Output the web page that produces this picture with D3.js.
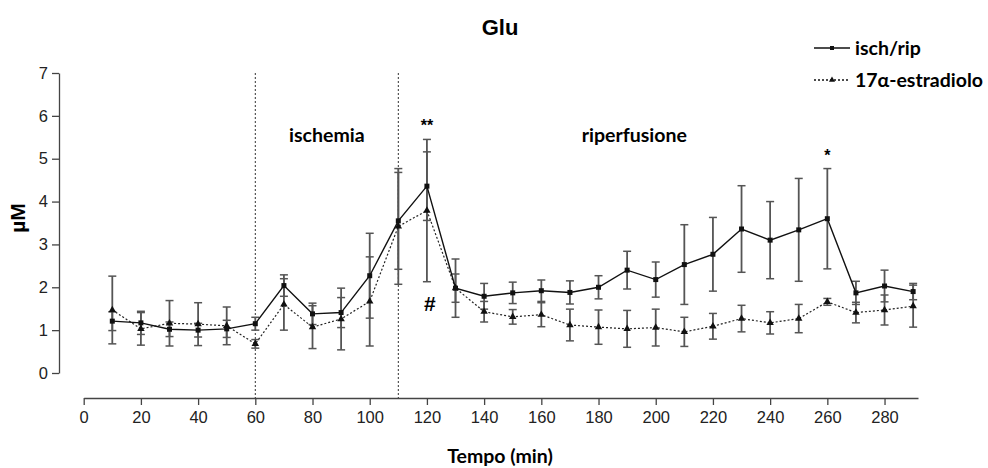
<!DOCTYPE html>
<html><head><meta charset="utf-8">
<script src="https://cdn.jsdelivr.net/npm/d3@7"></script>
<style>
body{margin:0;background:#fff;}
svg{display:block;}
</style></head>
<body>
<svg id="chart" width="988" height="468"></svg>
<script>
const times = [10,20,30,40,50,60,70,80,90,100,110,120,130,140,150,160,170,180,190,200,210,220,230,240,250,260,270,280,290];
const ischRip = [1.21,1.17,1.02,1.00,1.03,1.15,2.04,1.38,1.41,2.27,3.55,4.36,1.98,1.79,1.87,1.92,1.88,2.00,2.40,2.18,2.53,2.77,3.36,3.10,3.34,3.60,1.87,2.03,1.90];
const ischRipErr = [0.22,0.27,0.17,0.16,0.20,0.15,0.25,0.25,0.35,0.99,1.13,0.80,0.33,0.30,0.25,0.25,0.27,0.27,0.44,0.41,0.93,0.86,1.01,0.90,1.20,1.17,0.27,0.37,0.19];
const estradiolo = [1.47,1.03,1.16,1.14,1.10,0.68,1.60,1.07,1.26,1.67,3.42,3.79,1.98,1.43,1.31,1.36,1.12,1.07,1.03,1.06,0.96,1.09,1.27,1.17,1.27,1.66,1.41,1.47,1.56];
const estradioloErr = [0.79,0.38,0.53,0.50,0.44,0.10,0.60,0.50,0.72,1.04,1.35,1.66,0.68,0.24,0.17,0.28,0.37,0.40,0.43,0.43,0.34,0.30,0.31,0.26,0.33,0.08,0.24,0.35,0.49];
const xTicks = [0,20,40,60,80,100,120,140,160,180,200,220,240,260,280];
const yTicks = [0,1,2,3,4,5,6,7];
const phaseLines = [60,110];
const phaseLabels = [{text:"ischemia", t:85}, {text:"riperfusione", t:192.5}];
const annotations = [{text:"**", t:120, v:5.65, size:16}, {text:"*", t:260, v:4.95, size:16}, {text:"#", t:121, v:1.45, size:21}];
const seriesNames = ["isch/rip", "17\u03B1-estradiolo"];

const svg = d3.select("#chart");
const x = d3.scaleLinear().domain([0, 291.7]).range([83.7, 918]);
const y = d3.scaleLinear().domain([0, 7]).range([373, 73]);
const axisColor = "#444";
const sans = "'Liberation Sans', Arial, sans-serif";
const calib = "Lato, 'Open Sans', sans-serif";
const calibSize = 19.5;

// title
svg.append("text").attr("x", 500).attr("y", 35).attr("text-anchor", "middle")
  .attr("font-family", sans).attr("font-weight", "bold").attr("font-size", 22).text("Glu");

// x axis
const gx = svg.append("g").attr("transform", "translate(0,398)")
  .call(d3.axisBottom(x).tickValues(xTicks).tickFormat(d3.format("d")).tickSize(7).tickSizeOuter(0).tickPadding(6));
gx.select(".domain").attr("stroke", axisColor).attr("stroke-width", 1.3);
gx.selectAll(".tick line").attr("stroke", axisColor).attr("stroke-width", 1.3);
gx.selectAll(".tick text").attr("font-family", sans).attr("font-size", 16.5).attr("fill", "#222");

// y axis
const gy = svg.append("g").attr("transform", "translate(59,0)")
  .call(d3.axisLeft(y).tickValues(yTicks).tickFormat(d3.format("d")).tickSize(7).tickSizeOuter(0).tickPadding(4));
gy.select(".domain").attr("stroke", axisColor).attr("stroke-width", 1.3);
gy.selectAll(".tick line").attr("stroke", axisColor).attr("stroke-width", 1.3);
gy.selectAll(".tick text").attr("font-family", sans).attr("font-size", 16.5).attr("fill", "#222");

// axis titles
svg.append("text").attr("x", 500).attr("y", 463).attr("text-anchor", "middle")
  .attr("font-family", calib).attr("font-weight", "bold").attr("font-size", calibSize).text("Tempo (min)");
svg.append("text").attr("transform", "translate(25,218) rotate(-90)").attr("text-anchor", "middle")
  .attr("font-family", sans).attr("font-weight", "bold").attr("font-size", 21).text("\u00B5M");

// phase lines
svg.selectAll(".phase").data(phaseLines).join("line")
  .attr("x1", d => x(d)).attr("x2", d => x(d)).attr("y1", y(7)).attr("y2", 398)
  .attr("stroke", "#333").attr("stroke-width", 1).attr("stroke-dasharray", "2,2");
svg.selectAll(".plabel").data(phaseLabels).join("text")
  .attr("x", d => x(d.t)).attr("y", 142).attr("text-anchor", "middle")
  .attr("font-family", calib).attr("font-weight", "bold").attr("font-size", calibSize).text(d => d.text);

// error bars
function errBars(vals, errs) {
  const g = svg.append("g");
  const data = times.map((t, i) => ({t, v: vals[i], e: errs[i]}));
  g.selectAll(".ev").data(data).join("line")
    .attr("x1", d => x(d.t)).attr("x2", d => x(d.t))
    .attr("y1", d => y(d.v - d.e)).attr("y2", d => y(d.v + d.e))
    .attr("stroke", "#555").attr("stroke-width", 1.8);
  g.selectAll(".ct").data(data).join("line")
    .attr("x1", d => x(d.t) - 4).attr("x2", d => x(d.t) + 4)
    .attr("y1", d => y(d.v + d.e)).attr("y2", d => y(d.v + d.e))
    .attr("stroke", "#555").attr("stroke-width", 1.5);
  g.selectAll(".cb").data(data).join("line")
    .attr("x1", d => x(d.t) - 4).attr("x2", d => x(d.t) + 4)
    .attr("y1", d => y(d.v - d.e)).attr("y2", d => y(d.v - d.e))
    .attr("stroke", "#555").attr("stroke-width", 1.5);
}
errBars(estradiolo, estradioloErr);
errBars(ischRip, ischRipErr);

const line = d3.line().x(d => x(d[0])).y(d => y(d[1]));
svg.append("path").datum(times.map((t, i) => [t, estradiolo[i]]))
  .attr("d", line).attr("fill", "none").attr("stroke", "#222").attr("stroke-width", 1.2).attr("stroke-dasharray", "2,2");
svg.append("path").datum(times.map((t, i) => [t, ischRip[i]]))
  .attr("d", line).attr("fill", "none").attr("stroke", "#111").attr("stroke-width", 1.4);

const tri = d3.symbol().type(d3.symbolTriangle).size(24);
const sq = d3.symbol().type(d3.symbolSquare).size(25);
svg.selectAll(".tri").data(times.map((t, i) => [t, estradiolo[i]])).join("path")
  .attr("transform", d => `translate(${x(d[0])},${y(d[1])})`).attr("d", tri).attr("fill", "#111");
svg.selectAll(".sq").data(times.map((t, i) => [t, ischRip[i]])).join("path")
  .attr("transform", d => `translate(${x(d[0])},${y(d[1])})`).attr("d", sq).attr("fill", "#111");

// annotations
svg.selectAll(".ann").data(annotations).join("text")
  .attr("x", d => x(d.t)).attr("y", d => y(d.v)).attr("text-anchor", "middle")
  .attr("font-family", sans).attr("font-weight", "bold").attr("font-size", d => d.size).text(d => d.text);

// legend
const leg = svg.append("g");
const legRows = [{y: 48, dash: null}, {y: 80, dash: "2,2"}];
legRows.forEach((r, i) => {
  leg.append("line").attr("x1", 814).attr("x2", 850).attr("y1", r.y).attr("y2", r.y)
    .attr("stroke", "#111").attr("stroke-width", 1.3).attr("stroke-dasharray", r.dash);
  leg.append("path").attr("transform", `translate(832,${r.y})`).attr("d", d3.symbol().type(i ? d3.symbolTriangle : d3.symbolSquare).size(16)).attr("fill", "#111");
  leg.append("text").attr("x", 855).attr("y", r.y + 7).attr("font-family", calib)
    .attr("font-weight", "bold").attr("font-size", calibSize).text(seriesNames[i]);
});
</script>
</body></html>
